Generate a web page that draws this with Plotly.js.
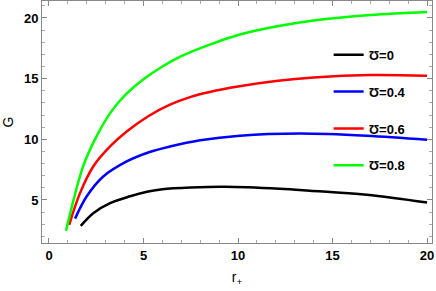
<!DOCTYPE html>
<html><head><meta charset="utf-8">
<script src="https://cdn.plot.ly/plotly-3.0.1.min.js"></script>
<style>html,body{margin:0;padding:0;background:#fff}#c{width:436px;height:291px}</style>
</head><body><div id="c"></div>
<script>
const names = ["Ʊ=0", "Ʊ=0.4", "Ʊ=0.6", "Ʊ=0.8"];
const colors = ["#000000", "#0000ff", "#ff0000", "#00ff00"];
const r0 = [1.68, 2.34, 3.23, 4.29, 5.25, 6.0, 7.5, 9.3, 12.2, 13.8, 16.8, 20];
const G0 = [2.86, 3.91, 4.74, 5.3, 5.69, 5.88, 6.02, 6.08, 5.92, 5.76, 5.42, 4.78];
const r1 = [1.38, 1.99, 2.87, 4.11, 5.25, 6.4, 8.0, 10.1, 13.28, 16.8, 20];
const G1 = [3.46, 5.28, 6.93, 8.17, 8.91, 9.4, 9.92, 10.3, 10.47, 10.29, 9.96];
const r2 = [1.07, 1.64, 2.34, 3.23, 4.11, 5.25, 6.4, 7.5, 8.5, 10, 12, 14, 17, 20];
const G2 = [2.95, 5.56, 7.76, 9.41, 10.64, 11.9, 12.85, 13.5, 13.9, 14.35, 14.8, 15.1, 15.3, 15.24];
const r3 = [0.9, 1.3, 1.8, 2.5, 3.3, 4, 5, 6, 7, 8.5, 10, 12, 14, 17, 20];
const G3 = [2.45, 5.0, 7.75, 10.2, 12.3, 13.6, 14.95, 16.0, 16.85, 17.8, 18.6, 19.3, 19.8, 20.25, 20.5];
const xs = [r0, r1, r2, r3], ys = [G0, G1, G2, G3];
const FONT = "Liberation Sans, Arial, sans-serif";
const traces = xs.map((x, i) => ({
  x: x, y: ys[i], type: "scatter", mode: "lines",
  line: {color: colors[i], width: 2.5, shape: "spline", smoothing: 1},
  name: "<b>" + names[i] + "</b>", legendgroup: "g" + i
}));
const axBase = {
  showgrid: false, zeroline: false, showline: true, linecolor: "#888", linewidth: 1,
  mirror: "allticks", ticks: "inside", ticklen: 5, tickcolor: "#888",
  tickfont: {family: FONT, size: 13, color: "#000", weight: 700},
  minor: {dtick: 1, ticks: "inside", ticklen: 3, tickcolor: "#aaa", showgrid: false}
};
const layout = {
  width: 436, height: 291,
  margin: {l: 42, r: 4, t: 1, b: 48},
  paper_bgcolor: "#fff", plot_bgcolor: "#fff",
  xaxis: Object.assign({}, axBase, {range: [-0.37, 20.26], dtick: 5, tick0: 0,
    title: {text: "r<sub>+</sub>", font: {family: FONT, size: 14, color: "#000"}, standoff: 10}}),
  yaxis: Object.assign({}, axBase, {range: [1.45, 21.4], dtick: 5, tick0: 0,
    title: {text: "G", font: {family: FONT, size: 14, color: "#000"}, standoff: 8}}),
  showlegend: true,
  legend: {x: 0.735, y: 0.84, xanchor: "left", yanchor: "top", bgcolor: "rgba(0,0,0,0)",
    font: {family: FONT, size: 13, color: "#000"},
    traceorder: "grouped", tracegroupgap: 17},
};
Plotly.newPlot("c", traces, layout, {displayModeBar: false, staticPlot: true});
</script></body></html>
